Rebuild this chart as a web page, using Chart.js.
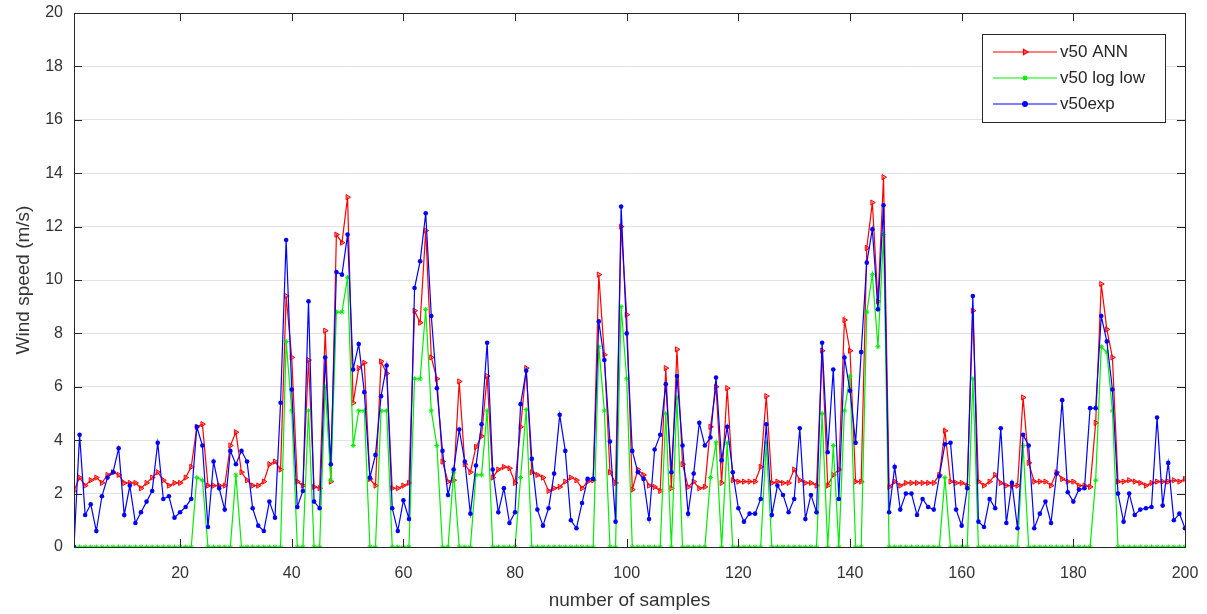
<!DOCTYPE html>
<html>
<head>
<meta charset="utf-8">
<script src="https://cdn.jsdelivr.net/npm/chart.js@4.4.1/dist/chart.umd.min.js"></script>
<style>
  html, body { margin: 0; padding: 0; background: #fff; }
  #wrap { width: 1207px; height: 614px; }
</style>
</head>
<body>
<div id="wrap"><canvas id="chart"></canvas></div>
<script>
// sample index 1..200
const samples = Array.from({ length: 200 }, (_, i) => i + 1);

const v50ann = [
  2.1, 2.6, 2.3, 2.5, 2.6, 2.4, 2.7, 2.8, 2.7, 2.4,
  2.4, 2.4, 2.2, 2.4, 2.6, 2.8, 2.5, 2.3, 2.4, 2.4,
  2.6, 3.0, 4.5, 4.6, 2.3, 2.3, 2.3, 2.3, 3.8, 4.3,
  2.8, 2.5, 2.3, 2.3, 2.45, 3.1, 3.2, 2.9, 9.4, 7.1,
  2.45, 2.3, 7.0, 2.25, 2.2, 8.1, 2.45, 11.7, 11.4, 13.1,
  5.4, 6.7, 6.9, 2.55, 2.3, 6.95, 6.5, 2.2, 2.2, 2.3,
  2.4, 8.85, 8.4, 11.85, 7.1, 6.3, 3.2, 2.45, 2.5, 6.2,
  3.1, 2.8, 3.75, 4.15, 6.4, 2.6, 2.9, 3.0, 2.95, 2.4,
  4.5, 6.7, 2.8, 2.7, 2.6, 2.1, 2.2, 2.25, 2.45, 2.6,
  2.5, 2.2, 2.45, 2.5, 10.2, 7.2, 2.8, 2.4, 12.0, 8.7,
  2.15, 2.9, 2.7, 2.3, 2.25, 2.1, 6.7, 2.2, 7.4, 3.1,
  2.25, 2.45, 2.2, 2.25, 4.5, 6.0, 2.4, 5.95, 2.5, 2.45,
  2.45, 2.45, 2.45, 3.0, 5.65, 2.4, 2.45, 2.4, 2.4, 2.9,
  2.5, 2.4, 2.4, 2.3, 7.35, 2.3, 2.7, 2.9, 8.5, 7.35,
  2.45, 2.45, 11.2, 12.9, 9.2, 13.85, 2.25, 2.45, 2.3, 2.4,
  2.4, 2.4, 2.4, 2.4, 2.4, 2.7, 4.35, 2.45, 2.4, 2.4,
  2.3, 8.85, 2.45, 2.3, 2.45, 2.7, 2.4, 2.3, 2.3, 2.3,
  5.6, 3.15, 2.45, 2.45, 2.45, 2.3, 2.8, 2.55, 2.45, 2.45,
  2.3, 2.3, 2.25, 4.65, 9.85, 8.15, 7.1, 2.45, 2.45, 2.5,
  2.45, 2.4, 2.3, 2.4, 2.45, 2.45, 2.45, 2.5, 2.45, 2.55
];

const v50logLow = [
  0, 0, 0, 0, 0, 0, 0, 0, 0, 0,
  0, 0, 0, 0, 0, 0, 0, 0, 0, 0,
  0, 0, 2.6, 2.5, 0, 0, 0, 0, 0, 2.7,
  0, 0, 0, 0, 0, 0, 0, 0, 7.7, 5.1,
  0, 0, 5.1, 0, 0, 6.0, 2.5, 8.8, 8.8, 10.1,
  3.8, 5.1, 5.1, 0, 0, 5.1, 5.1, 0, 0, 0,
  0, 6.3, 6.3, 8.9, 5.1, 3.8, 0, 0, 2.8, 0,
  0, 0, 2.7, 2.7, 5.1, 0, 0, 0, 0, 0,
  2.6, 5.15, 0, 0, 0, 0, 0, 0, 0, 0,
  0, 0, 0, 0, 7.5, 5.1, 0, 0, 9.0, 6.3,
  0, 0, 0, 0, 0, 0, 5.0, 0, 5.6, 0,
  0, 0, 0, 0, 2.6, 3.9, 0, 3.9, 0, 0,
  0, 0, 0, 0, 3.9, 0, 0, 0, 0, 0,
  0, 0, 0, 0, 5.0, 0, 3.8, 0, 5.1, 6.4,
  0, 0, 8.8, 10.2, 7.5, 11.7, 0, 0, 0, 0,
  0, 0, 0, 0, 0, 0, 2.6, 0, 0, 0,
  0, 6.3, 0, 0, 0, 0, 0, 0, 0, 0,
  3.8, 0, 0, 0, 0, 0, 0, 0, 0, 0,
  0, 0, 0, 2.5, 7.5, 7.3, 5.1, 0, 0, 0,
  0, 0, 0, 0, 0, 0, 0, 0, 0, 0
];

const v50exp = [
  0, 4.2, 1.2, 1.6, 0.6, 1.9, 2.6, 2.8, 3.7, 1.2,
  2.3, 0.9, 1.3, 1.7, 2.1, 3.9, 1.8, 1.9, 1.1, 1.3,
  1.5, 1.8, 4.5, 3.8, 0.75, 3.2, 2.2, 1.4, 3.6, 3.1,
  3.6, 3.2, 1.45, 0.8, 0.6, 1.7, 1.1, 5.4, 11.5, 5.9,
  1.5, 2.1, 9.2, 1.7, 1.45, 7.1, 3.1, 10.3, 10.2, 11.7,
  6.65, 7.6, 5.8, 2.6, 3.45, 5.65, 6.8, 1.45, 0.6, 1.75,
  1.05, 9.7, 10.7, 12.5, 8.65, 5.95, 3.6, 1.95, 2.9, 4.4,
  3.2, 1.25, 3.05, 4.6, 7.65, 2.9, 1.3, 2.2, 0.9, 1.3,
  5.35, 6.6, 3.3, 1.4, 0.8, 1.45, 2.75, 4.95, 3.6, 1.0,
  0.7, 1.65, 2.55, 2.55, 8.45, 7.0, 3.95, 0.95, 12.75, 8.0,
  3.6, 2.8, 2.55, 1.05, 3.65, 4.2, 6.1, 2.8, 6.4, 3.8,
  1.25, 2.75, 4.65, 3.8, 4.1, 6.35, 3.25, 4.5, 2.8, 1.45,
  0.95, 1.25, 1.25, 1.8, 4.6, 1.2, 2.3, 1.95, 1.3, 1.8,
  4.45, 1.05, 1.95, 1.3, 7.65, 3.55, 6.65, 1.8, 7.1, 5.85,
  3.9, 7.3, 10.65, 11.9, 8.9, 12.8, 1.3, 3.0, 1.4, 2.0,
  2.0, 1.2, 1.8, 1.5, 1.4, 2.65, 3.85, 3.9, 1.4, 0.8,
  2.2, 9.4, 0.95, 0.75, 1.8, 1.45, 4.45, 0.9, 2.4, 0.7,
  4.2, 3.8, 0.7, 1.25, 1.7, 0.9, 2.75, 5.5, 2.05, 1.7,
  2.15, 2.2, 5.2, 5.2, 8.65, 7.7, 5.9, 2.0, 0.95, 2.0,
  1.2, 1.4, 1.45, 1.5, 4.85, 1.55, 3.15, 1.0, 1.25, 0.7
];

const xTicks = [20, 40, 60, 80, 100, 120, 140, 160, 180, 200];
const yTicks = [0, 2, 4, 6, 8, 10, 12, 14, 16, 18, 20];

const FONT = '"Liberation Sans", Arial, Helvetica, sans-serif';
const AXIS_COLOR = '#262626';

function toPoints(values) {
    return values.map((v, i) => ({ x: samples[i], y: v }));
}

// MATLAB style box with inward tick marks
const boxPlugin = {
    id: 'box',
    afterDraw(chart) {
        const { ctx, chartArea: a, scales } = chart;
        ctx.save();
        ctx.strokeStyle = AXIS_COLOR;
        ctx.lineWidth = 1;
        ctx.strokeRect(a.left + 0.5, a.top + 0.5, a.right - a.left, a.bottom - a.top);
        ctx.beginPath();
        xTicks.forEach(v => {
            const x = Math.round(scales.x.getPixelForValue(v)) + 0.5;
            ctx.moveTo(x, a.bottom); ctx.lineTo(x, a.bottom - 8);
            ctx.moveTo(x, a.top); ctx.lineTo(x, a.top + 8);
        });
        yTicks.forEach(v => {
            const y = Math.round(scales.y.getPixelForValue(v)) + 0.5;
            ctx.moveTo(a.left, y); ctx.lineTo(a.left + 8, y);
            ctx.moveTo(a.right, y); ctx.lineTo(a.right - 8, y);
        });
        ctx.stroke();
        ctx.restore();
    }
};

// legend box in the upper right like the MATLAB one
const legendPlugin = {
    id: 'boxLegend',
    afterDraw(chart) {
        const { ctx } = chart;
        const left = 982, top = 34, width = 183, height = 88;
        ctx.save();
        ctx.fillStyle = '#fff';
        ctx.fillRect(left, top, width, height);
        ctx.strokeStyle = AXIS_COLOR;
        ctx.lineWidth = 1;
        ctx.strokeRect(left + 0.5, top + 0.5, width, height);
        chart.data.datasets.forEach((ds, i) => {
            const y = top + 18 + i * 26;
            ctx.strokeStyle = ds.borderColor;
            ctx.lineWidth = 1.2;
            ctx.beginPath();
            ctx.moveTo(left + 11, y);
            ctx.lineTo(left + 75, y);
            ctx.stroke();
            ctx.fillStyle = ds.pointBackgroundColor;
            ctx.strokeStyle = ds.borderColor;
            Chart.helpers.drawPoint(ctx, {
                pointStyle: ds.pointStyle,
                rotation: ds.pointRotation || 0,
                radius: ds.pointRadius,
                borderWidth: 1
            }, left + 43, y);
            ctx.fillStyle = AXIS_COLOR;
            ctx.font = '17px ' + FONT;
            ctx.textAlign = 'left';
            ctx.textBaseline = 'middle';
            ctx.fillText(ds.label, left + 78, y);
        });
        ctx.restore();
    }
};

new Chart(document.getElementById('chart'), {
    type: 'line',
    data: {
        datasets: [
            {
                label: 'v50 ANN',
                data: toPoints(v50ann),
                borderColor: '#ff0000',
                borderWidth: 1.2,
                pointStyle: 'triangle',
                pointRotation: 90,
                pointRadius: 3,
                pointBorderWidth: 1,
                pointBackgroundColor: 'rgba(255,60,60,0.45)',
                order: 3
            },
            {
                label: 'v50 log low',
                data: toPoints(v50logLow),
                borderColor: '#00ee00',
                borderWidth: 1.2,
                pointStyle: 'star',
                pointRadius: 2.5,
                pointBorderWidth: 1,
                pointBackgroundColor: '#00ee00',
                order: 2
            },
            {
                label: 'v50exp',
                data: toPoints(v50exp),
                borderColor: '#0000ff',
                borderWidth: 1.2,
                pointStyle: 'circle',
                pointRadius: 2.3,
                pointBorderWidth: 0,
                pointBackgroundColor: '#0000ff',
                order: 1
            }
        ]
    },
    options: {
        responsive: true,
        maintainAspectRatio: false,
        animation: false,
        layout: { padding: { top: 13, right: 22, left: 0, bottom: 0 } },
        plugins: {
            legend: { display: false },
            tooltip: { enabled: false }
        },
        elements: { line: { tension: 0 } },
        scales: {
            x: {
                type: 'linear',
                min: 1,
                max: 200,
                afterFit: s => {
                    s.height = 67;
                    s.paddingLeft = 0;
                    s.paddingRight = 0;
                },
                afterBuildTicks: s => { s.ticks = xTicks.map(v => ({ value: v })); },
                grid: { display: false },
                border: { display: false },
                ticks: {
                    color: '#333',
                    font: { family: FONT, size: 16 },
                    padding: 9,
                    maxRotation: 0
                },
                title: {
                    display: true,
                    text: 'number of samples',
                    color: '#333',
                    font: { family: FONT, size: 19 },
                    padding: { bottom: 2 }
                }
            },
            y: {
                type: 'linear',
                min: 0,
                max: 20,
                afterFit: s => {
                    s.width = 74;
                    s.paddingTop = 0;
                    s.paddingBottom = 0;
                },
                afterBuildTicks: s => { s.ticks = yTicks.map(v => ({ value: v })); },
                grid: { color: '#e2e2e2', drawTicks: false, lineWidth: 1 },
                border: { display: false },
                ticks: {
                    color: '#333',
                    font: { family: FONT, size: 16 },
                    padding: 11
                },
                title: {
                    display: true,
                    text: 'Wind speed (m/s)',
                    color: '#333',
                    font: { family: FONT, size: 19 },
                    padding: { top: 12 }
                }
            }
        }
    },
    plugins: [boxPlugin, legendPlugin]
});
</script>
</body>
</html>
